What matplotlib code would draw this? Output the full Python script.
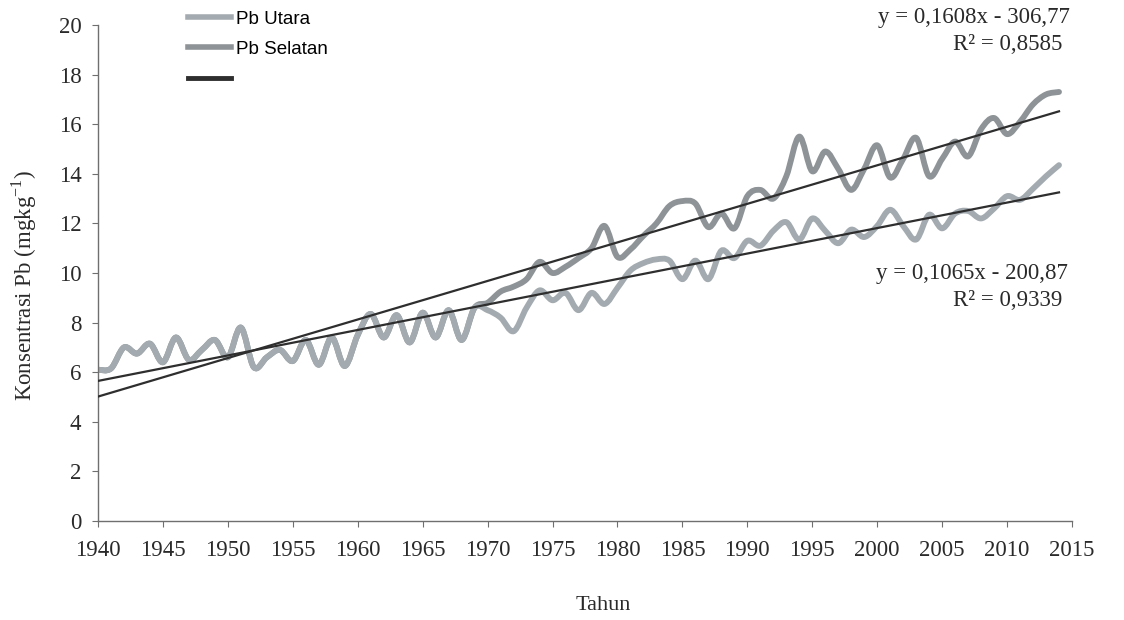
import numpy as np
import matplotlib
matplotlib.use("Agg")
import matplotlib.pyplot as plt
from matplotlib.path import Path
from matplotlib.patches import PathPatch
from matplotlib.lines import Line2D

# ---------------- data ----------------
years = list(range(1940, 2015))

pb_utara = [
    6.1, 6.15, 7.0, 6.75, 7.15, 6.4, 7.4, 6.5, 6.9, 7.3,          # 1940-1949
    6.6, 7.8, 6.2, 6.6, 6.9, 6.45, 7.3, 6.3, 7.4, 6.25,           # 1950-1959
    7.5, 8.35, 7.4, 8.3, 7.2, 8.4, 7.4, 8.5, 7.3, 8.6,            # 1960-1969
    8.5, 8.2, 7.65, 8.6, 9.3, 8.9, 9.2, 8.5, 9.2, 8.75,           # 1970-1979
    9.4, 10.1, 10.4, 10.55, 10.5, 9.75, 10.5, 9.75, 10.9, 10.6,   # 1980-1989
    11.3, 11.1, 11.7, 12.05, 11.35, 12.2, 11.7, 11.2, 11.75, 11.45,  # 1990-1999
    11.9, 12.55, 11.9, 11.35, 12.35, 11.8, 12.4, 12.5, 12.2, 12.6,   # 2000-2009
    13.1, 12.95, 13.4, 13.9, 14.35,                                  # 2010-2014
]

pb_selatan = [
    6.1, 6.15, 7.0, 6.75, 7.15, 6.4, 7.4, 6.5, 6.9, 7.3,          # 1940-1949
    6.6, 7.8, 6.2, 6.6, 6.9, 6.45, 7.3, 6.3, 7.4, 6.25,           # 1950-1959
    7.5, 8.35, 7.4, 8.3, 7.2, 8.4, 7.4, 8.5, 7.3, 8.6,            # 1960-1969
    8.8, 9.25, 9.45, 9.75, 10.45, 10.0, 10.25, 10.6, 11.0, 11.9,  # 1970-1979
    10.65, 10.95, 11.5, 12.0, 12.7, 12.9, 12.8, 11.85, 12.4, 11.8,   # 1980-1989
    13.1, 13.35, 13.0, 13.9, 15.5, 14.1, 14.9, 14.2, 13.35, 14.2,    # 1990-1999
    15.15, 13.85, 14.6, 15.45, 13.9, 14.6, 15.3, 14.7, 15.8, 16.25,  # 2000-2009
    15.6, 16.1, 16.8, 17.2, 17.3,                                    # 2010-2014
]

eq_selatan = ["y = 0,1608x - 306,77", "R\u00b2 = 0,8585"]
eq_utara = ["y = 0,1065x - 200,87", "R\u00b2 = 0,9339"]

x_ticks = list(range(1940, 2016, 5))
y_ticks = list(range(0, 21, 2))

# ---------------- style ----------------
c_utara = "#a3abb0"
c_selatan = "#8d9396"
c_trend = "#2e2e2e"
c_text = "#2a2a2a"
serif = ["Liberation Serif", "DejaVu Serif"]
sans = ["Liberation Sans", "DejaVu Sans"]


def smooth_path(xs, ys):
    xs = np.asarray(xs, float)
    ys = np.asarray(ys, float)
    n = len(xs)
    verts = [(xs[0], ys[0])]
    codes = [Path.MOVETO]
    for i in range(n - 1):
        i0 = max(i - 1, 0)
        i3 = min(i + 2, n - 1)
        c1 = (xs[i] + (xs[i + 1] - xs[i0]) / 6.0, ys[i] + (ys[i + 1] - ys[i0]) / 6.0)
        c2 = (xs[i + 1] - (xs[i3] - xs[i]) / 6.0, ys[i + 1] - (ys[i3] - ys[i]) / 6.0)
        verts += [c1, c2, (xs[i + 1], ys[i + 1])]
        codes += [Path.CURVE4] * 3
    return Path(verts, codes)


W, H = 1124, 620
fig = plt.figure(figsize=(W / 100, H / 100), dpi=100)
ax = fig.add_axes([98 / W, 1 - 521 / H, (1072 - 98) / W, (521 - 25) / H])

for series, col in ((pb_selatan, c_selatan), (pb_utara, c_utara)):
    patch = PathPatch(smooth_path(years, series), fill=False, edgecolor=col,
                      lw=4.2, capstyle="round", joinstyle="round", zorder=2)
    ax.add_patch(patch)

yr = np.asarray(years, float)
for series in (pb_selatan, pb_utara):
    k, b = np.polyfit(yr, np.asarray(series, float), 1)
    ax.plot([yr[0], yr[-1]], [k * yr[0] + b, k * yr[-1] + b], color=c_trend, lw=1.6, zorder=3)

ax.set_xlim(1940, 2015)
ax.set_ylim(0, 20)
ax.set_xticks(x_ticks)
ax.set_yticks(y_ticks)
for s in ("top", "right"):
    ax.spines[s].set_visible(False)
for s in ("left", "bottom"):
    ax.spines[s].set_color("#6f6f6f")
    ax.spines[s].set_linewidth(1.0)
ax.tick_params(axis="both", direction="out", length=4, color="#6f6f6f",
               labelsize=16.5, labelcolor=c_text)
ax.tick_params(axis="x", pad=10)
ax.tick_params(axis="y", pad=8)
for lab in ax.get_xticklabels() + ax.get_yticklabels():
    lab.set_family(serif)

fig.text(603 / W, 1 - 605 / H, "Tahun", family=serif, fontsize=16,
         ha="center", va="center", color=c_text)
fig.text(24 / W, 1 - 285 / H, "Konsentrasi Pb (mgkg$^{\\mathregular{-1}}$)", family=serif,
         fontsize=16.5, rotation=90, ha="center", va="center", color=c_text)

# trendline equations
fig.text(1070 / W, 1 - 17 / H, eq_selatan[0], family=serif, fontsize=16.5,
         ha="right", va="center", color=c_text)
fig.text(1062 / W, 1 - 44 / H, eq_selatan[1], family=serif, fontsize=16.5,
         ha="right", va="center", color=c_text)
fig.text(1068 / W, 1 - 273 / H, eq_utara[0], family=serif, fontsize=16.5,
         ha="right", va="center", color=c_text)
fig.text(1062 / W, 1 - 300 / H, eq_utara[1], family=serif, fontsize=16.5,
         ha="right", va="center", color=c_text)

handles = [Line2D([], [], color=c_utara, lw=4),
           Line2D([], [], color=c_selatan, lw=4),
           Line2D([], [], color=c_trend, lw=3.5)]
labels = ["Pb Utara", "Pb Selatan", ""]
fig.legend(handles, labels, loc="upper left", bbox_to_anchor=(180 / W, 1 - 3 / H),
           frameon=False, prop={"family": sans, "size": 13.5}, handlelength=2.3,
           handletextpad=0.3, labelspacing=0.7, borderaxespad=0)

fig.savefig("out.png", dpi=100, facecolor="white")
